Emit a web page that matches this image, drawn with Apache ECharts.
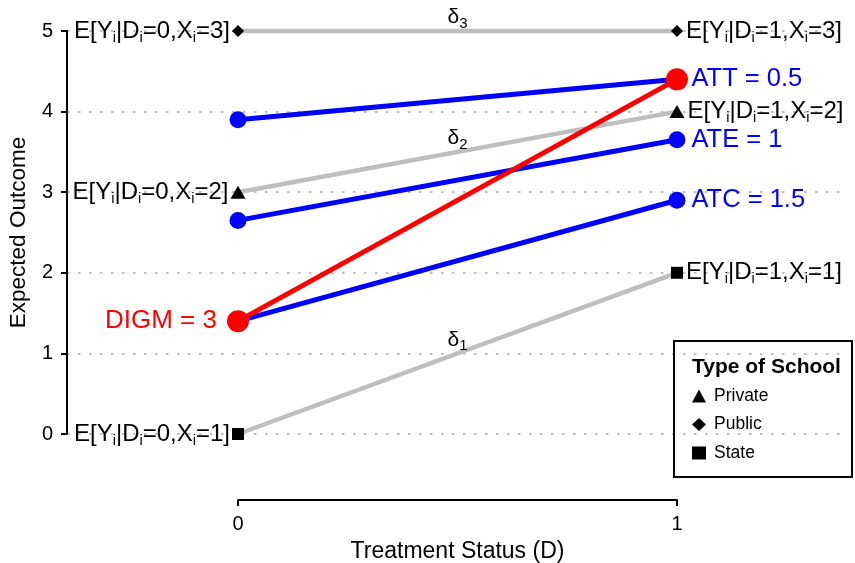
<!DOCTYPE html>
<html><head><meta charset="utf-8">
<script src="https://cdn.jsdelivr.net/npm/echarts@6/dist/echarts.min.js"></script>
<style>html,body{margin:0;padding:0;background:#fff}#c{width:855px;height:563px}</style>
</head><body><div id="c"></div>
<script>
// ---- data ----
const treatment = [0, 1];
const yTicks = [0, 1, 2, 3, 4, 5];
const schoolNames = ['Private', 'Public', 'State'];
const schoolX = [2, 3, 1];
const privateY = [3, 4];
const publicY = [5, 5];
const stateY = [0, 2];
const blueStart = [3.9, 2.65, 1.4];
const blueEnd = [4.4, 3.65, 2.9];
const blueLabels = ['ATT = 0.5', 'ATE = 1', 'ATC = 1.5'];
const redY = [1.4, 4.4];
const redLabel = 'DIGM = 3';

// ---- build ----
const FONT = 'Liberation Sans, Arial, Helvetica, sans-serif';
const schoolY = [privateY, publicY, stateY];
const schoolSymbol = ['triangle', 'diamond', 'rect'];
const schoolSize = [[15, 13], [12, 12], [12, 12]];
const GRAY = '#BEBEBE', BLUE = '#0000FF', RED = '#FF0000';

function eLabel(d, x) { return 'E[Y{s|i}|D{s|i}=' + d + ',X{s|i}=' + x + ']'; }
const subRich = { s: { fontSize: 14.5, fontFamily: FONT, color: '#000', padding: [13, 0, 0, 0] } };

const series = [];
// gray lines
schoolNames.forEach((n, k) => {
  series.push({
    type: 'line', name: n + ' line', xAxisIndex: 0, yAxisIndex: 0,
    data: treatment.map((t, i) => [t, schoolY[k][i]]),
    symbol: 'none', lineStyle: { color: GRAY, width: 4.5 }, z: 2, silent: true, clip: false
  });
});
// delta labels at midpoints
series.push({
  type: 'scatter', xAxisIndex: 0, yAxisIndex: 0, symbolSize: 0, z: 6, clip: false,
  itemStyle: { opacity: 1 },
  data: schoolNames.map((n, k) => ({
    value: [(treatment[0] + treatment[1]) / 2, (schoolY[k][0] + schoolY[k][1]) / 2],
    label: { formatter: 'δ{s|' + schoolX[k] + '}' }
  })),
  label: {
    show: true, position: 'top', distance: 0, color: '#000', fontSize: 21, fontFamily: FONT,
    rich: { s: { fontSize: 15, fontFamily: FONT, color: '#000', padding: [12, 0, 0, 0] } }
  }
});
// blue lines
blueLabels.forEach((lab, k) => {
  series.push({
    type: 'line', xAxisIndex: 0, yAxisIndex: 0, z: 3, clip: false,
    data: [
      { value: [treatment[0], blueStart[k]] },
      { value: [treatment[1], blueEnd[k]], label: { show: true, position: 'right', distance: 6, formatter: lab, color: BLUE, fontSize: 25.5, fontFamily: FONT } }
    ],
    symbol: 'circle', symbolSize: 17, showSymbol: true,
    itemStyle: { color: BLUE }, lineStyle: { color: BLUE, width: 5 }
  });
});
// red line
series.push({
  type: 'line', xAxisIndex: 0, yAxisIndex: 0, z: 4, clip: false,
  data: [
    { value: [treatment[0], redY[0]], label: { show: true, position: 'left', distance: 10, formatter: redLabel, color: RED, fontSize: 26, fontFamily: FONT } },
    { value: [treatment[1], redY[1]] }
  ],
  symbol: 'circle', symbolSize: 22,
  itemStyle: { color: RED }, lineStyle: { color: RED, width: 5 }
});
// black markers (school types)
schoolNames.forEach((n, k) => {
  series.push({
    type: 'scatter', name: n, xAxisIndex: 0, yAxisIndex: 0, z: 7, clip: false,
    symbol: schoolSymbol[k], symbolSize: schoolSize[k],
    itemStyle: { color: '#000', opacity: 1 },
    data: treatment.map((t, i) => ({
      value: [t, schoolY[k][i]],
      label: {
        show: true, position: i === 0 ? 'left' : 'right', distance: i === 0 ? 2 : 3,
        formatter: eLabel(t, schoolX[k]), color: '#000', fontSize: 24, fontFamily: FONT, rich: subRich
      }
    }))
  });
});

const option = {
  animation: false,
  backgroundColor: '#fff',
  grid: [
    { left: 67, right: 10, top: 31, bottom: 129, outerBoundsMode: 'none', containLabel: false },
    { left: 238, width: 439, top: 499, height: 1, outerBoundsMode: 'none', containLabel: false }
  ],
  xAxis: [
    { type: 'value', gridIndex: 0, min: -0.3895, max: 1.3827, show: false },
    {
      type: 'value', gridIndex: 1, min: treatment[0], max: treatment[1], interval: 1, position: 'bottom',
      axisLine: { show: true, onZero: false, lineStyle: { color: '#000', width: 2 } },
      axisTick: { show: true, length: 6, lineStyle: { color: '#000', width: 2 } },
      axisLabel: { color: '#000', fontSize: 20, fontFamily: FONT, margin: 14 },
      splitLine: { show: false },
      name: 'Treatment Status (D)', nameLocation: 'middle', nameGap: 40,
      nameTextStyle: { color: '#000', fontSize: 23, fontFamily: FONT }
    }
  ],
  yAxis: [
    {
      type: 'value', gridIndex: 0, min: yTicks[0], max: yTicks[yTicks.length - 1], interval: 1,
      axisLine: { show: true, onZero: false, lineStyle: { color: '#000', width: 2 } },
      axisTick: { show: true, length: 6, lineStyle: { color: '#000', width: 2 } },
      axisLabel: { color: '#000', fontSize: 20, fontFamily: FONT, margin: 14 },
      splitLine: { show: true, lineStyle: { color: GRAY, width: 2, type: [2.5, 8.5] } },
      name: 'Expected Outcome', nameLocation: 'middle', nameGap: 37,
      nameTextStyle: { color: '#000', fontSize: 22.5, fontFamily: FONT }
    },
    { type: 'value', gridIndex: 1, show: false }
  ],
  legend: {
    data: schoolNames.map((n, k) => ({ name: n, icon: schoolSymbol[k] })),
    orient: 'vertical', left: 687, top: 382, itemWidth: 14, itemHeight: 13, itemGap: 10.5,
    textStyle: { color: '#000', fontSize: 17.5, fontFamily: FONT, padding: [0, 0, 0, 3] },
    selectedMode: false
  },
  graphic: [
    { type: 'rect', shape: { x: 674, y: 341, width: 178, height: 136 }, style: { fill: 'none', stroke: '#000', lineWidth: 2 }, z: 10 },
    { type: 'text', x: 692, y: 367, style: { text: 'Type of School', font: 'bold 21px ' + FONT, fill: '#000', textVerticalAlign: 'middle' }, z: 10 }
  ],
  series: series
};
const chart = echarts.init(document.getElementById('c'), null, { renderer: 'canvas' });
chart.setOption(option);
</script></body></html>
